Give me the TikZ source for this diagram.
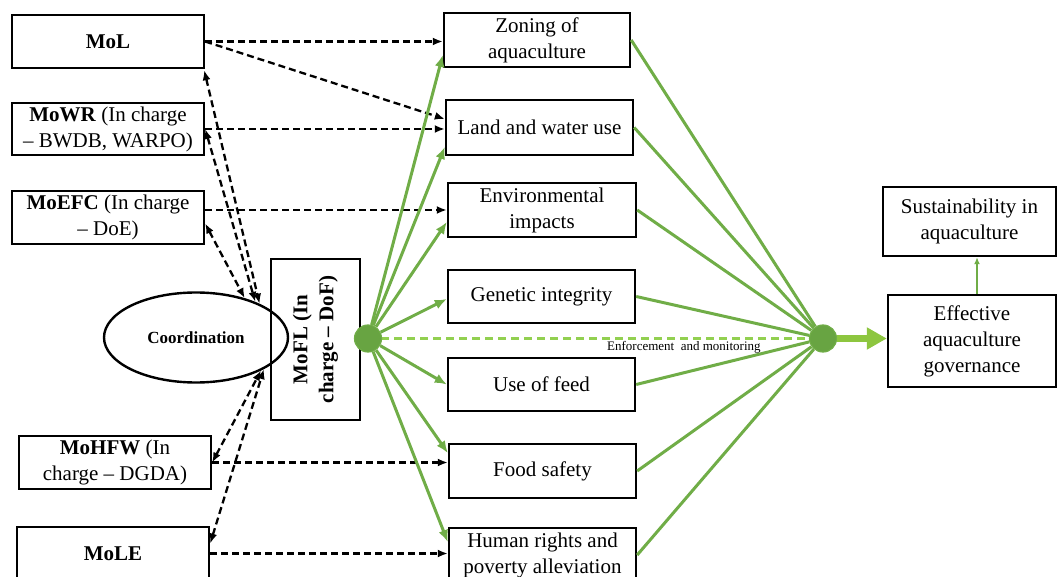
\documentclass[tikz,border=0pt]{standalone}
\usepackage{fontspec}
\setmainfont{Liberation Serif}
\usetikzlibrary{arrows.meta,shapes.geometric,calc}
\definecolor{gline}{RGB}{112,173,71}
\definecolor{gdot}{RGB}{104,164,66}
\definecolor{glight}{RGB}{146,208,80}
\definecolor{garrow}{RGB}{141,198,63}
\begin{document}
\begin{tikzpicture}[x=1pt,y=-1pt,
  box/.style={draw=black,line width=2.4pt,align=center,inner sep=2pt,font=\fontsize{21}{26}\selectfont},
  blk/.style={draw=black,line width=2.3pt,dash pattern=on 7pt off 4pt,-{Latex[length=10pt,width=8pt]}},
  blk2/.style={draw=black,line width=2.3pt,dash pattern=on 7pt off 4pt,{Latex[length=10pt,width=8pt]}-{Latex[length=10pt,width=8pt]}},
  grn/.style={draw=gline,line width=3pt,-{Latex[length=12pt,width=10pt]}},
  gln/.style={draw=gline,line width=3pt},
  gdotst/.style={circle,fill=gdot,draw=gline,line width=1.2pt,minimum size=27pt,inner sep=0pt},
]
\useasboundingbox (0,0) rectangle (1057,577);
% left column
\node[box,minimum width=192pt,minimum height=53pt] (mol) at (108,41.5) {\textbf{MoL}};
\node[box,minimum width=192pt,minimum height=52pt] (mowr) at (108,129) {\textbf{MoWR} (In charge\\– BWDB, WARPO)};
\node[box,minimum width=192pt,minimum height=53pt] (moefc) at (108,217.5) {\textbf{MoEFC} (In charge\\– DoE)};
\node[box,minimum width=192pt,minimum height=53pt] (mohfw) at (115,462.5) {\textbf{MoHFW} (In\\charge – DGDA)};
\node[box,minimum width=192pt,minimum height=53pt] (mole) at (113,553.5) {\textbf{MoLE}};
\node[draw,ellipse,line width=2.4pt,minimum width=184pt,minimum height=90pt,inner sep=0pt,font=\fontsize{17}{20}\selectfont\bfseries] (coord) at (196,337.5) {Coordination};
\node[box,rotate=90,minimum width=161pt,minimum height=89pt] (mofl) at (315.5,339.5) {\textbf{MoFL (In}\\\textbf{charge – DoF)}};
% middle column
\node[box,minimum width=186pt,minimum height=54pt] (zon) at (537,40) {Zoning of\\aquaculture};
\node[box,minimum width=187pt,minimum height=55pt] (land) at (539.5,127.5) {Land and water use};
\node[box,minimum width=188pt,minimum height=54pt] (env) at (542,210) {Environmental\\impacts};
\node[box,minimum width=187pt,minimum height=53pt] (gen) at (541.5,296.5) {Genetic integrity};
\node[box,minimum width=187pt,minimum height=53pt] (feed) at (541.5,384.5) {Use of feed};
\node[box,minimum width=187pt,minimum height=54pt] (food) at (542.5,471) {Food safety};
\node[box,minimum width=187pt,minimum height=54pt] (hum) at (542.5,555) {Human rights and\\poverty alleviation};
% right column
\node[box,minimum width=168pt,minimum height=92pt] (eff) at (972,341) {Effective\\aquaculture\\governance};
\node[box,minimum width=173pt,minimum height=69pt] (sust) at (969.5,221.5) {Sustainability in\\aquaculture};
% enforcement line (under dots)
\coordinate (lc) at (368,338.5);
\coordinate (rc) at (823,338.5);
\draw[glight,line width=2.4pt,dash pattern=on 8pt off 5pt] (lc) -- (rc);
% dots
\node[gdotst] (ldot) at (lc) {};
\node[gdotst] (rdot) at (rc) {};
\node[font=\fontsize{13}{15}\selectfont,anchor=west,inner sep=0pt] (enf) at (607,347) {Enforcement~ and monitoring};
% black dashed
\draw[blk] (mol.east) -- (mol.east -| zon.west);
\draw[blk] (mol.east) -- ([yshift=8.5pt]land.west);
\draw[blk] (mowr.east) -- (mowr.east -| land.west);
\draw[blk] (env.west -| moefc.east) -- (env.west);
\draw[blk] (mohfw.east) -- (mohfw.east -| food.west);
\draw[blk] (mole.east) -- (mole.east -| hum.west);
% coordination
\draw[blk2] ([xshift=-1pt,yshift=-1pt]mol.south east) -- (coord.28);
\draw[blk2] (mowr.east) -- (coord.31);
\draw[blk2] ([yshift=-6pt]moefc.east) -- (coord.39);
\draw[blk2] (mohfw.east) -- (coord.-27);
\draw[blk2] ([yshift=10pt]mole.east) -- (coord.-25);
% green arrows
\draw[grn] (ldot) -- ([yshift=-15pt]zon.west);
\draw[grn] (ldot) -- ([yshift=-19.5pt]land.west);
\draw[grn] (ldot) -- ([yshift=-12pt]env.west);
\draw[grn] (ldot) -- ([yshift=-2.5pt]gen.west);
\draw[grn] (ldot) -- (feed.west);
\draw[grn] (ldot) -- ([yshift=18pt]food.west);
\draw[grn] (ldot) -- ([yshift=13pt]hum.west);
% green lines to right dot
\foreach \n in {zon,land,env,gen,feed,food,hum} \draw[gln] (\n.east) -- (rdot);
% right arrows
\draw[garrow,line width=7pt,-{Triangle[length=20pt,width=21pt]}] (rdot.east) -- (rdot.east -| eff.west);
\draw[gline,line width=2.2pt,-{Latex[length=7pt,width=6pt]}] ([xshift=5pt]eff.north) -- ([xshift=5pt]eff.north |- sust.south);
\end{tikzpicture}
\end{document}
